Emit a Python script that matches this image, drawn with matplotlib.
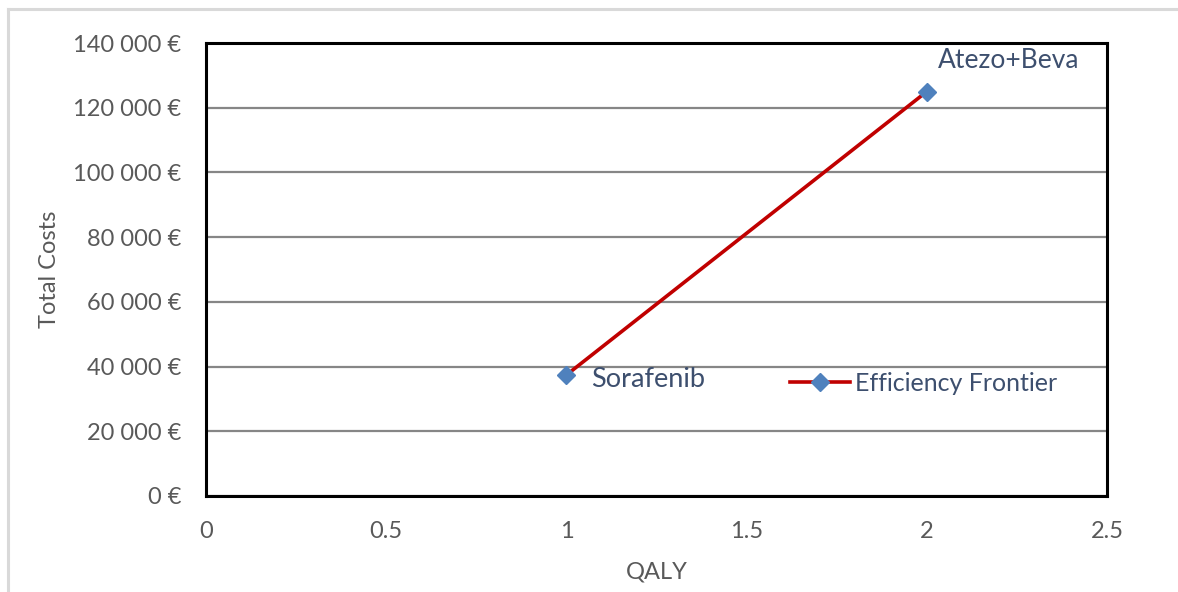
import matplotlib.pyplot as plt
from matplotlib.lines import Line2D
from matplotlib.ticker import FuncFormatter

plt.rcParams['font.family'] = ['Lato', 'DejaVu Sans']

treatments = ['Sorafenib', 'Atezo+Beva']
qaly = [1.0, 2.0]
total_costs = [37400, 125000]
x_ticks = [0, 0.5, 1, 1.5, 2, 2.5]
y_ticks = [0, 20000, 40000, 60000, 80000, 100000, 120000, 140000]

label_col = '#3d4f6e'
tick_col = '#595959'

fig = plt.figure(figsize=(11.78, 5.92), dpi=100)
ax = fig.add_axes([206 / 1178, 1 - 496 / 592, 901 / 1178, 453 / 592])

# light frame around the whole chart
fig.add_artist(Line2D([8 / 1178, 1.0], [1 - 9 / 592, 1 - 9 / 592], color='#d9d9d9', lw=2.2))
fig.add_artist(Line2D([8 / 1178, 8 / 1178], [0.0, 1 - 9 / 592], color='#d9d9d9', lw=2.2))

ax.set_xlim(0, 2.5)
ax.set_ylim(0, 140000)
ax.set_xticks(x_ticks)
ax.set_yticks(y_ticks)
ax.xaxis.set_major_formatter(FuncFormatter(lambda v, p: f'{v:g}'))
ax.yaxis.set_major_formatter(FuncFormatter(lambda v, p: f'{int(v):,}'.replace(',', ' ') + ' €'))
ax.tick_params(length=0, labelsize=17, labelcolor=tick_col)
ax.tick_params(axis='y', pad=18)
ax.tick_params(axis='x', pad=18)
ax.grid(axis='y', color='#868686', lw=1.6)
ax.set_axisbelow(True)
for s in ax.spines.values():
    s.set_linewidth(2.2)
    s.set_color('black')

ax.plot(qaly, total_costs, color='#c00000', lw=2.6, marker='D', ms=9,
        mfc='#4f81bd', mec='#4f81bd', label='Efficiency Frontier', zorder=3)

ax.annotate(treatments[0], (qaly[0], total_costs[0]), xytext=(18, -3),
            textcoords='offset points', color=label_col, fontsize=19.5, va='center')
ax.annotate(treatments[1], (qaly[1], total_costs[1]), xytext=(8, 22),
            textcoords='offset points', color=label_col, fontsize=19, va='center')

leg = ax.legend(loc='center left', bbox_to_anchor=(0.648, 0.248), frameon=False,
                fontsize=18, handlelength=2.4, handletextpad=0.2, borderaxespad=0,
                borderpad=0)
for t in leg.get_texts():
    t.set_color(label_col)

ax.set_xlabel('QALY', fontsize=17, color=tick_col, labelpad=14)
ax.set_ylabel('Total Costs', fontsize=17, color=tick_col, labelpad=9)

fig.savefig('out.png', dpi=100, facecolor='white')
